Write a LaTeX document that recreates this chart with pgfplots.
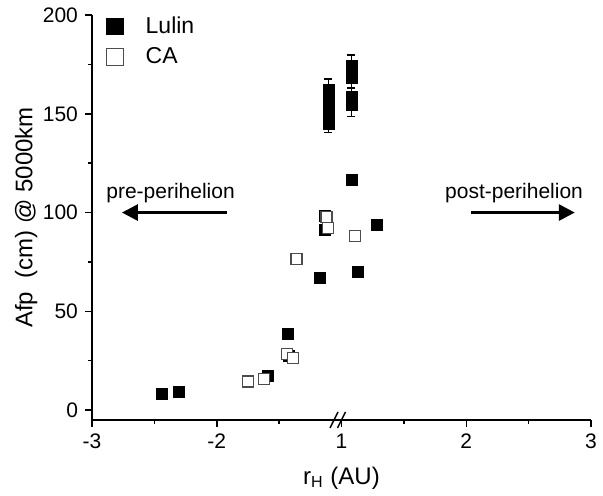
\documentclass[border=0pt]{standalone}
\usepackage{fontspec}
\setmainfont{Liberation Sans}
\usepackage{pgfplots}
\pgfplotsset{compat=1.18}
\usetikzlibrary{arrows.meta}

% r_H > 0 is drawn shifted left by 2 (broken axis: -3..-1 | 1..3)
\pgfplotsset{brk/.style={x filter/.expression={x>0 ? x-2 : x}}}

\pgfplotstableread{
x      y      ey
-2.44  8.4    0.8
-2.30  9.2    0.8
-1.59  17.3   1
-1.43  38.4   1
-1.42  27.5   2
-1.17  67.0   1.5
-1.13  91.0   1.5
-1.13  98.5   1.5
-1.105 162.2  5.5
-1.105 157.0  0
-1.105 152.0  0
-1.105 148.0  0
-1.105 144.7  4.1
1.08   174.1  5.7
1.08   168.3  5.4
1.08   158.5  4.5
1.08   154.4  5.8
1.08   116.7  1.5
1.13   69.9   2
1.28   93.9   1
}\lulin

\pgfplotstableread{
x      y
-1.75  14.5
-1.62  15.8
-1.44  28.6
-1.39  26.3
-1.36  76.6
-1.12  97.6
-1.11  92.3
1.11   88.0
}\ca

\begin{document}
\begin{tikzpicture}
\begin{axis}[
  scale only axis, width=249.5pt, height=202.5pt,
  xmin=-3, xmax=1, ymin=-5, ymax=200,
  axis x line*=bottom, axis y line*=left,
  axis line style={line width=0.75pt},
  tick align=outside, tick style={line width=0.75pt, black},
  major tick length=3.5pt, minor tick length=2pt,
  xtick={-3,-2,-1,0,1}, xticklabels={-3,-2,1,2,3},
  minor xtick={-2.5,-1.5,-0.5,0.5},
  ytick={0,50,100,150,200}, minor ytick={25,75,125,175},
  /pgf/number format/assume math mode=true,
  ticklabel style={font=\fontsize{10.5}{12}\selectfont},
  xlabel={r\textsubscript{H} (AU)}, ylabel={Afp\ \ (cm) @ 5000km},
  label style={font=\fontsize{12}{14}\selectfont},
  xlabel style={at={(axis description cs:0.5,-0.143)}, anchor=center},
  ylabel style={at={(axis description cs:-0.132,0.5)}, anchor=center},
  clip=false,
  legend style={draw=none, fill=none, font=\fontsize{11.5}{13}\selectfont,
    at={(axis description cs:0.016,1.017)}, anchor=north west,
    row sep=1.5pt, cells={anchor=west}, nodes={inner xsep=4pt}},
  legend image code/.code={\draw[#1, mark size=4.2pt] plot coordinates {(0.15cm,0cm)};
    \path[draw=none] (0,0) -- (0.55cm,0);},
]
\addplot[brk, only marks, mark=square*, mark size=2.75pt, black, forget plot,
  error bars/.cd, y dir=both, y explicit,
  error bar style={line width=0.7pt},
  error mark options={rotate=90, mark size=2pt, line width=0.7pt}]
  table[x=x, y=y, y error=ey] {\lulin};
\addplot[brk, only marks, mark=square*, mark size=2.75pt, forget plot,
  mark options={draw=black!70, fill=white, line width=0.6pt}]
  table[x=x, y=y] {\ca};
\addlegendimage{only marks, mark=square*, black}
\addlegendentry{Lulin}
\addlegendimage{only marks, mark=square*, mark options={draw=black!70, fill=white, line width=0.6pt}}
\addlegendentry{CA}

% axis break
\fill[white] (axis cs:-1.04,-5) ++(0,-2pt) rectangle ++(4pt,4pt);
\draw[line width=0.7pt] (axis cs:-1.06,-5) ++(-2pt,-4pt) -- ++(4pt,8pt);
\draw[line width=0.7pt] (axis cs:-1.0,-5) ++(-2pt,-4pt) -- ++(4pt,8pt);

% direction arrows
\draw[line width=1.5pt, -{Triangle[length=8pt,width=8pt]}] (axis cs:-1.918,100) -- (axis cs:-2.76,100);
\node[anchor=south, font=\fontsize{10.5}{12}\selectfont] at (axis cs:-2.37,101.5) {pre-perihelion};
\draw[line width=1.5pt, -{Triangle[length=8pt,width=8pt]}] (axis cs:0.038,100) -- (axis cs:0.87,100);
\node[anchor=south, font=\fontsize{10.5}{12}\selectfont] at (axis cs:0.383,101.5) {post-perihelion};
\end{axis}
\pgfresetboundingbox
\path (-46pt,-38pt) rectangle (255.5pt,210pt);
\end{tikzpicture}
\end{document}
